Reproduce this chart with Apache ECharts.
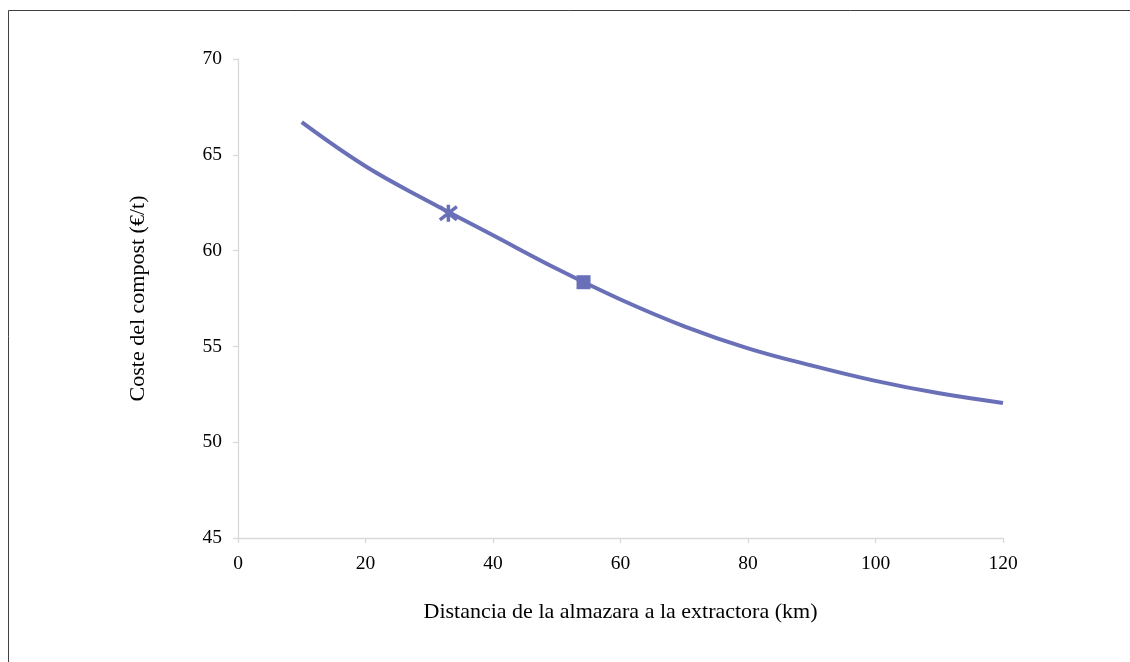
<!DOCTYPE html>
<html>
<head>
<meta charset="utf-8">
<script src="https://cdn.jsdelivr.net/npm/echarts@6/dist/echarts.min.js"></script>
<style>
html,body{margin:0;padding:0;background:#fff;}
#c{width:1130px;height:662px;}
</style>
</head>
<body>
<div id="c"></div>
<script>
// Data
const distances = [10, 20, 30, 40, 50, 60, 70, 80, 90, 100, 110, 120];
const costs = [66.7, 64.4, 62.55, 60.8, 59.05, 57.45, 56.05, 54.9, 54.0, 53.2, 52.55, 52.05];
const starPoint = [33, 61.95];
const squarePoint = [54.2, 58.35];
const yTicks = [45, 50, 55, 60, 65, 70];
const xTicks = [0, 20, 40, 60, 80, 100, 120];

const lineColor = '#6970b8';
const font = '"Liberation Serif", "DejaVu Serif", serif';

const chart = echarts.init(document.getElementById('c'));
chart.setOption({
  backgroundColor: '#fff',
  animation: false,
  graphic: [{
    type: 'rect',
    shape: { x: 8.5, y: 10.5, width: 1300, height: 900 },
    style: { fill: 'none', stroke: '#404040', lineWidth: 1 },
    z: 0
  }],
  grid: { left: 238, right: 127, top: 59, bottom: 124 },
  xAxis: {
    type: 'value',
    min: xTicks[0], max: xTicks[xTicks.length - 1], interval: 20,
    name: 'Distancia de la almazara a la extractora (km)',
    nameLocation: 'middle', nameGap: 63,
    nameTextStyle: { fontFamily: font, fontSize: 22, color: '#000' },
    axisLine: { show: true, lineStyle: { color: '#d9d9d9', width: 1.3 } },
    axisTick: { show: true, length: 5, lineStyle: { color: '#d9d9d9', width: 1.3 } },
    axisLabel: { fontFamily: font, fontSize: 19.5, color: '#000', margin: 16 },
    splitLine: { show: false }
  },
  yAxis: {
    type: 'value',
    min: yTicks[0], max: yTicks[yTicks.length - 1], interval: 5,
    name: 'Coste del compost (€/t)',
    nameLocation: 'middle', nameGap: 89,
    nameTextStyle: { fontFamily: font, fontSize: 22, color: '#000' },
    axisLine: { show: true, lineStyle: { color: '#d9d9d9', width: 1.3 } },
    axisTick: { show: true, length: 5, lineStyle: { color: '#d9d9d9', width: 1.3 } },
    axisLabel: { fontFamily: font, fontSize: 19.5, color: '#000', margin: 16 },
    splitLine: { show: false }
  },
  series: [
    {
      type: 'line',
      data: distances.map((d, i) => [d, costs[i]]),
      smooth: 0.4,
      showSymbol: false,
      lineStyle: { color: lineColor, width: 4 },
      z: 2
    },
    {
      type: 'scatter',
      data: [starPoint],
      symbol: 'path://M0,0 L10,10 M10,0 L0,10 M5,-1.5 L5,11.5',
      symbolSize: 17,
      itemStyle: { color: 'none', borderColor: lineColor, borderWidth: 3.5, opacity: 1 },
      z: 3
    },
    {
      type: 'scatter',
      data: [squarePoint],
      symbol: 'rect',
      symbolSize: 14,
      itemStyle: { color: lineColor, opacity: 1 },
      z: 3
    }
  ]
});
</script>
</body>
</html>
